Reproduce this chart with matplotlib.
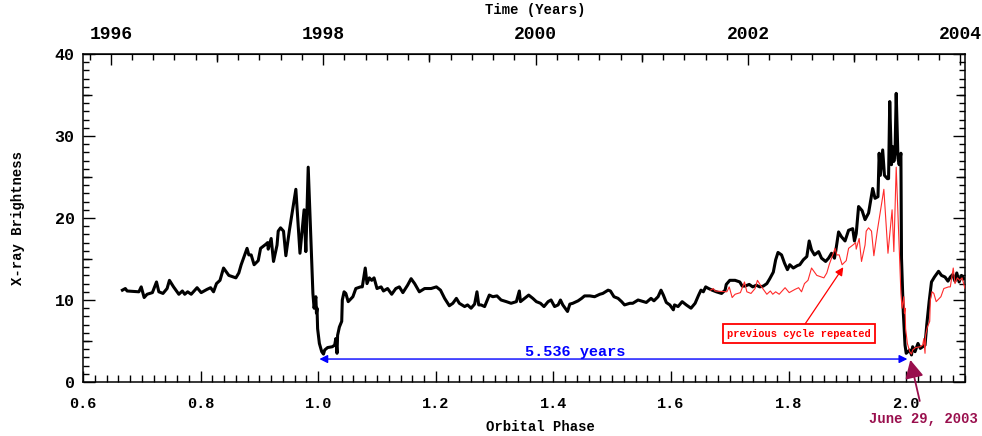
import numpy as np
import matplotlib
matplotlib.use("Agg")
import matplotlib.pyplot as plt
from matplotlib.ticker import MultipleLocator, FixedLocator, FormatStrFormatter, NullFormatter

plt.rcParams['font.family'] = ['Liberation Mono', 'DejaVu Sans Mono']
plt.rcParams['font.weight'] = 'bold'

# orbital period and epoch of phase 1.0 (years)
PERIOD = 5.536
T0 = 1997.953

# first observed cycle (phase 0.67 - 1.11)
phase_c1 = [0.667, 0.672, 0.675, 0.695, 0.699, 0.704, 0.709, 0.718, 0.725, 0.729,
            0.736, 0.743, 0.747, 0.754, 0.763, 0.769, 0.773, 0.778, 0.784, 0.794,
            0.801, 0.811, 0.817, 0.822, 0.827, 0.833, 0.839, 0.848, 0.860, 0.865,
            0.869, 0.874, 0.879, 0.882, 0.886, 0.891, 0.898, 0.902, 0.911, 0.914,
            0.915, 0.918, 0.920, 0.924, 0.930, 0.932, 0.936, 0.941, 0.945, 0.951,
            0.962, 0.969, 0.976, 0.979, 0.983, 0.991, 0.993, 0.996, 0.997, 0.998,
            0.999, 1.002, 1.006, 1.009, 1.011, 1.016, 1.024, 1.028, 1.030, 1.032,
            1.033, 1.036, 1.040, 1.041, 1.044, 1.047, 1.051, 1.059, 1.064, 1.072,
            1.075, 1.080, 1.083, 1.087, 1.091, 1.095, 1.100, 1.107, 1.111]
flux_c1 = [11.2, 11.4, 11.1, 11.0, 11.6, 10.3, 10.7, 10.9, 12.2, 11.0,
           10.8, 11.4, 12.4, 11.6, 10.7, 11.1, 10.7, 11.0, 10.7, 11.5,
           10.9, 11.3, 11.5, 11.0, 12.0, 12.4, 13.9, 13.0, 12.7, 13.3,
           14.3, 15.3, 16.3, 15.5, 15.5, 14.3, 14.8, 16.3, 16.8, 17.0,
           16.2, 17.0, 17.5, 14.7, 16.7, 18.4, 18.8, 18.4, 15.4, 18.5,
           23.5, 15.7, 21.0, 15.9, 26.2, 10.8, 9.0, 10.4, 8.4, 9.0,
           6.5, 4.7, 3.7, 3.4, 3.9, 4.2, 4.3, 4.5, 5.3, 3.5,
           5.7, 6.7, 7.4, 10.0, 11.0, 10.8, 9.8, 10.4, 11.4, 11.6,
           11.6, 13.9, 12.0, 12.7, 12.4, 12.7, 11.4, 11.6, 11.1]

# second cycle (phase 1.11 - 2.10)
phase_c2 = [1.118, 1.125, 1.132, 1.138, 1.144, 1.152, 1.158, 1.164, 1.172, 1.181,
            1.192, 1.201, 1.208, 1.215, 1.223, 1.229, 1.235, 1.240, 1.249, 1.254,
            1.260, 1.266, 1.270, 1.273, 1.277, 1.283, 1.291, 1.297, 1.304, 1.311,
            1.320, 1.328, 1.337, 1.342, 1.344, 1.351, 1.358, 1.365, 1.371, 1.378,
            1.384, 1.391, 1.396, 1.402, 1.408, 1.412, 1.416, 1.424, 1.428, 1.433,
            1.442, 1.448, 1.453, 1.462, 1.470, 1.479, 1.484, 1.493, 1.497, 1.503,
            1.510, 1.516, 1.521, 1.530, 1.535, 1.544, 1.553, 1.558, 1.566, 1.571,
            1.578, 1.583, 1.587, 1.592, 1.598, 1.604, 1.606, 1.612, 1.619, 1.626,
            1.634, 1.641, 1.647, 1.651, 1.655, 1.659, 1.664, 1.670, 1.677, 1.686,
            1.692, 1.694, 1.700, 1.709, 1.717, 1.721, 1.726, 1.733, 1.739, 1.745,
            1.751, 1.757, 1.763, 1.768, 1.774, 1.778, 1.782, 1.788, 1.793, 1.798,
            1.802, 1.808, 1.815, 1.819, 1.825, 1.831, 1.835, 1.839, 1.844, 1.851,
            1.856, 1.863, 1.868, 1.873, 1.878, 1.880, 1.885, 1.890, 1.896, 1.902,
            1.909, 1.912, 1.915, 1.919, 1.925, 1.930, 1.936, 1.943, 1.947, 1.952,
            1.954, 1.956, 1.960, 1.963, 1.968, 1.970, 1.972, 1.975, 1.977, 1.979,
            1.981, 1.983, 1.986, 1.988, 1.991, 1.992, 1.995, 1.998, 2.000, 2.006,
            2.009, 2.011, 2.015, 2.020, 2.024, 2.032, 2.035, 2.039, 2.043, 2.048,
            2.055, 2.060, 2.066, 2.071, 2.075, 2.079, 2.083, 2.086, 2.090, 2.094,
            2.098]
flux_c2 = [11.4, 10.7, 11.4, 11.6, 10.9, 11.8, 12.6, 12.0, 11.0, 11.4,
           11.4, 11.6, 11.2, 10.2, 9.3, 9.6, 10.2, 9.6, 9.2, 9.4,
           9.0, 9.5, 11.0, 9.4, 9.4, 9.2, 10.6, 10.4, 10.5, 10.0,
           9.8, 9.6, 9.8, 11.1, 9.8, 10.2, 10.6, 10.2, 9.8, 9.6,
           9.2, 9.8, 10.0, 9.2, 9.4, 10.0, 9.4, 8.6, 9.5, 9.6,
           9.9, 10.2, 10.5, 10.5, 10.4, 10.7, 10.8, 11.2, 11.1, 10.4,
           10.2, 9.8, 9.4, 9.6, 9.6, 10.0, 9.8, 9.7, 10.2, 9.9,
           10.4, 11.2, 10.6, 9.7, 9.4, 8.8, 9.4, 9.2, 9.8, 9.4,
           9.0, 9.6, 10.6, 11.2, 11.0, 11.6, 11.4, 11.2, 11.0, 10.8,
           11.2, 11.9, 12.4, 12.4, 12.2, 11.7, 11.7, 11.9, 11.6, 11.8,
           11.6, 11.7, 12.0, 12.6, 13.4, 14.9, 15.8, 15.5, 14.5, 13.7,
           14.3, 13.9, 14.2, 14.3, 14.9, 15.3, 17.2, 16.1, 15.5, 15.9,
           15.1, 14.7, 15.1, 15.7, 15.1, 15.9, 18.3, 17.7, 17.2, 18.5,
           18.7, 17.2, 18.1, 21.4, 20.9, 19.8, 20.6, 23.6, 22.4, 22.6,
           27.9, 25.2, 28.3, 25.2, 24.8, 24.8, 34.2, 26.5, 28.7, 26.9,
           27.9, 35.2, 27.3, 26.5, 27.9, 15.1, 8.6, 4.5, 3.5, 3.9,
           3.3, 4.3, 3.7, 4.7, 4.1, 4.5, 7.0, 9.8, 12.2, 12.8,
           13.5, 13.0, 12.8, 12.3, 12.8, 13.1, 12.3, 13.3, 12.2, 13.0,
           12.6]

phase_all = np.array(phase_c1 + phase_c2)
flux_all = np.array(flux_c1 + flux_c2)
# previous cycle repeated one period later
phase_rep = np.array(phase_c1) + 1.0
flux_rep = np.array(flux_c1)


def ph2yr(p):
    return T0 + (np.asarray(p) - 1.0) * PERIOD


def yr2ph(y):
    return 1.0 + (np.asarray(y) - T0) / PERIOD


fig = plt.figure(figsize=(9.82, 4.36), dpi=100)
ax = fig.add_axes([83 / 982, 1 - 382 / 436, 882 / 982, 328 / 436])

ax.plot(phase_all, flux_all, color='black', lw=2.2, zorder=3)
ax.plot(phase_rep, flux_rep, color='#ff2a2a', lw=0.8, zorder=4)

ax.set_xlim(0.6, 2.1)
ax.set_ylim(0, 40)

ax.xaxis.set_major_locator(FixedLocator([0.6, 0.8, 1.0, 1.2, 1.4, 1.6, 1.8, 2.0]))
ax.xaxis.set_minor_locator(MultipleLocator(0.02))
ax.xaxis.set_major_formatter(FormatStrFormatter('%.1f'))
ax.yaxis.set_major_locator(MultipleLocator(10))
ax.yaxis.set_minor_locator(MultipleLocator(1))
ax.tick_params(axis='both', which='both', direction='in', top=False, right=True,
               width=1.0)
ax.tick_params(axis='x', which='major', length=8, pad=11, labelsize=11)
ax.tick_params(axis='x', which='minor', length=5)
ax.tick_params(axis='y', which='major', length=8.5, pad=6, labelsize=12)
ax.tick_params(axis='y', which='minor', length=4.5)
for s in ax.spines.values():
    s.set_linewidth(1.1)

# medium ticks every 5 units on both y sides
for side in ('left', 'right'):
    mid = ax.secondary_yaxis(side)
    mid.yaxis.set_major_locator(FixedLocator([5, 15, 25, 35]))
    mid.yaxis.set_major_formatter(NullFormatter())
    mid.tick_params(direction='in', length=6.5, width=1.0)
    mid.spines[side].set_visible(False)

sec = ax.secondary_xaxis('top', functions=(ph2yr, yr2ph))
sec.xaxis.set_major_locator(FixedLocator([1996, 1998, 2000, 2002, 2004]))
sec.xaxis.set_minor_locator(MultipleLocator(0.2))
sec.xaxis.set_major_formatter(FormatStrFormatter('%d'))
sec.tick_params(which='both', direction='in', width=1.0)
sec.tick_params(which='major', length=8, pad=8, labelsize=13)
sec.tick_params(which='minor', length=4.3)

# medium ticks on odd years
sec_mid = ax.secondary_xaxis('top', functions=(ph2yr, yr2ph))
sec_mid.xaxis.set_major_locator(FixedLocator([1997, 1999, 2001, 2003]))
sec_mid.xaxis.set_major_formatter(NullFormatter())
sec_mid.tick_params(direction='in', length=6, width=1.0)
sec_mid.spines['top'].set_visible(False)

fig.text(535 / 982, 1 - 10 / 436, 'Time (Years)', fontsize=10, fontweight='bold',
         ha='center', va='center')
ax.set_xlabel('Orbital Phase', fontsize=10, fontweight='bold', va='center')
ax.xaxis.set_label_coords((540 - 83) / 882, (382 - 427) / 328)
ax.set_ylabel('X-ray Brightness', fontsize=10, fontweight='bold', va='center')
ax.yaxis.set_label_coords((18 - 83) / 882, 0.5)

# period arrow
ax.annotate('', xy=(1.002, 2.8), xytext=(2.002, 2.8),
            arrowprops=dict(arrowstyle='<|-|>', color='blue', lw=1.0,
                            mutation_scale=12, shrinkA=0, shrinkB=0))
ax.text(1.437, 3.6, '5.536 years', color='blue', fontsize=11,
        fontweight='bold', ha='center', va='center')

# previous cycle label
ax.annotate('previous cycle repeated', xy=(1.893, 14.0), xytext=(1.817, 5.9),
            color='red', fontsize=7.5, fontweight='bold', ha='center', va='center',
            bbox=dict(boxstyle='square,pad=0.4', fc='white', ec='red', lw=1.3),
            arrowprops=dict(arrowstyle='-|>', color='red', lw=0.9,
                            mutation_scale=12, shrinkA=0, shrinkB=0))

# periastron date
ax.annotate('June 29, 2003', xy=(2.007, 2.7), xytext=(2.03, -4.5),
            color='#990f4d', fontsize=10, fontweight='bold', ha='center', va='center',
            annotation_clip=False,
            arrowprops=dict(arrowstyle='-|>,head_length=0.55,head_width=0.28',
                            color='#990f4d', lw=1.3,
                            mutation_scale=20, shrinkA=6, shrinkB=0))

fig.savefig('out.png', dpi=100)
